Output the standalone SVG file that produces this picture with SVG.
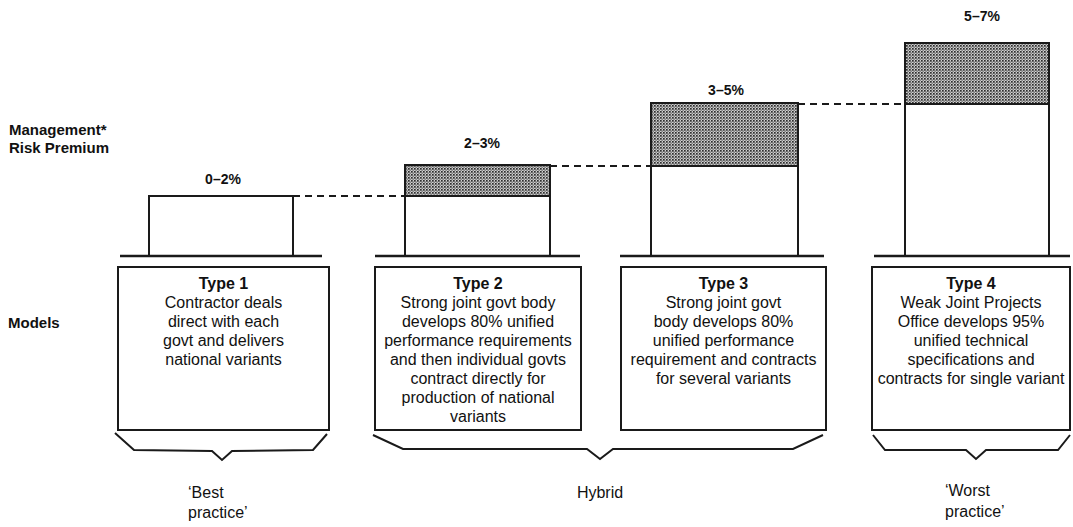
<svg xmlns="http://www.w3.org/2000/svg" width="1073" height="527" viewBox="0 0 1073 527">
<defs>
<pattern id="dots" width="3" height="3" patternUnits="userSpaceOnUse">
<rect width="3" height="3" fill="#cfcfcf"/>
<rect x="0" y="0" width="1.7" height="1.7" fill="#2e2e2e"/>
<rect x="1.5" y="1.5" width="1.3" height="1.3" fill="#5a5a5a"/>
</pattern>
<style>
.ln{fill:none;stroke:#1a1a1a;stroke-width:2}
.bx{fill:#fff;stroke:#1a1a1a;stroke-width:2}
.sh{fill:url(#dots);stroke:#1a1a1a;stroke-width:2}
.gr{stroke:#1a1a1a;stroke-width:2.5}
.dash{fill:none;stroke:#1a1a1a;stroke-width:2.2;stroke-dasharray:7 5}
.t{font-family:"Liberation Sans",Arial,sans-serif;font-size:16px;fill:#111;text-anchor:middle}
.h{font-weight:bold}
.p{font-family:"Liberation Sans",Arial,sans-serif;font-size:14px;font-weight:bold;fill:#111;text-anchor:middle}
.lab{font-family:"Liberation Sans",Arial,sans-serif;font-size:15px;font-weight:bold;fill:#111}
.bt{font-family:"Liberation Sans",Arial,sans-serif;font-size:16px;fill:#111}
</style>
</defs>
<rect width="1073" height="527" fill="#fff"/>

<g id="axis-labels">
<text class="lab" x="9" y="135">Management*</text>
<text class="lab" x="9" y="153">Risk Premium</text>
<text class="lab" x="8" y="328">Models</text>
</g>

<g id="connectors">
<line class="dash" x1="293" y1="196" x2="405" y2="196"/>
<line class="dash" x1="550" y1="166" x2="651" y2="166"/>
<line class="dash" x1="798" y1="104" x2="905" y2="104"/>
</g>

<g id="bar1">
<rect class="bx" x="149" y="196" width="144" height="60"/>
<line class="gr" x1="120" y1="256" x2="322" y2="256"/>
<text class="p" x="223" y="184">0–2%</text>
</g>
<g id="bar2">
<rect class="bx" x="405" y="196" width="145" height="60"/>
<rect class="sh" x="405" y="165" width="145" height="31"/>
<line class="gr" x1="375" y1="256" x2="580" y2="256"/>
<text class="p" x="482" y="148">2–3%</text>
</g>
<g id="bar3">
<rect class="bx" x="651" y="166" width="147" height="90"/>
<rect class="sh" x="651" y="103" width="147" height="63"/>
<line class="gr" x1="620" y1="256" x2="824" y2="256"/>
<text class="p" x="726" y="95">3–5%</text>
</g>
<g id="bar4">
<rect class="bx" x="905" y="104" width="144" height="152"/>
<rect class="sh" x="905" y="43" width="144" height="61"/>
<line class="gr" x1="874" y1="256" x2="1070" y2="256"/>
<text class="p" x="982" y="21">5–7%</text>
</g>

<g id="type1">
<rect class="bx" x="118" y="267" width="211" height="163"/>
<text class="t h" x="223.5" y="289">Type 1</text>
<text class="t" x="223.5" y="308">Contractor deals</text>
<text class="t" x="223.5" y="327">direct with each</text>
<text class="t" x="223.5" y="346">govt and delivers</text>
<text class="t" x="223.5" y="365">national variants</text>
</g>
<g id="type2">
<rect class="bx" x="375" y="267" width="206" height="163"/>
<text class="t h" x="478" y="289">Type 2</text>
<text class="t" x="478" y="308">Strong joint govt body</text>
<text class="t" x="478" y="327">develops 80% unified</text>
<text class="t" x="478" y="346">performance requirements</text>
<text class="t" x="478" y="365">and then individual govts</text>
<text class="t" x="478" y="384">contract directly for</text>
<text class="t" x="478" y="403">production of national</text>
<text class="t" x="478" y="422">variants</text>
</g>
<g id="type3">
<rect class="bx" x="621" y="267" width="205" height="163"/>
<text class="t h" x="723.5" y="289">Type 3</text>
<text class="t" x="723.5" y="308">Strong joint govt</text>
<text class="t" x="723.5" y="327">body develops 80%</text>
<text class="t" x="723.5" y="346">unified performance</text>
<text class="t" x="723.5" y="365">requirement and contracts</text>
<text class="t" x="723.5" y="384">for several variants</text>
</g>
<g id="type4">
<rect class="bx" x="872" y="267" width="198" height="163"/>
<text class="t h" x="971" y="289">Type 4</text>
<text class="t" x="971" y="308">Weak Joint Projects</text>
<text class="t" x="971" y="327">Office develops 95%</text>
<text class="t" x="971" y="346">unified technical</text>
<text class="t" x="971" y="365">specifications and</text>
<text class="t" x="971" y="384">contracts for single variant</text>
</g>

<g id="brace-best">
<polyline class="ln" points="115,433 134,450 212,451 222,460 232,451 313,450 327,434"/>
<text class="bt" x="188" y="498">‘Best</text>
<text class="bt" x="188" y="518">practice’</text>
</g>
<g id="brace-hybrid">
<polyline class="ln" points="373,435 403,449 587,449 600,459 613,449 793,449 823,435"/>
<text class="bt" x="600" y="498" text-anchor="middle">Hybrid</text>
</g>
<g id="brace-worst">
<polyline class="ln" points="873,435 885,450 966,450 976,459 986,450 1058,450 1070,435"/>
<text class="bt" x="945" y="496">‘Worst</text>
<text class="bt" x="945" y="517">practice’</text>
</g>
</svg>
